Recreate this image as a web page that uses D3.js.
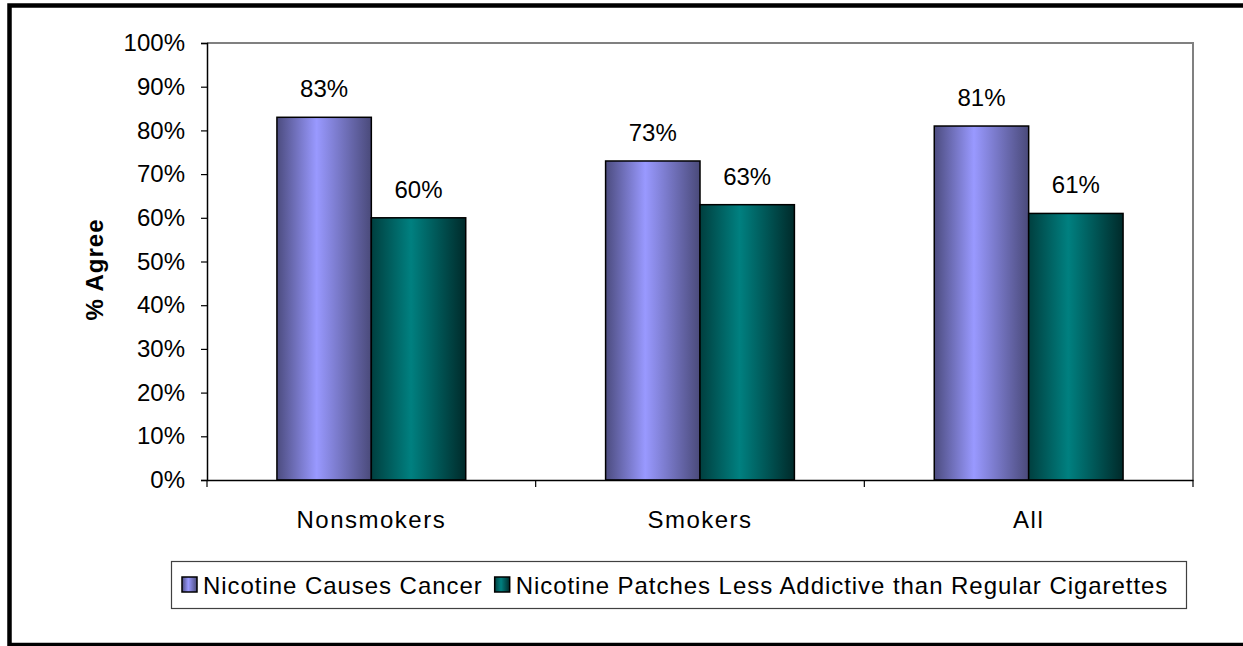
<!DOCTYPE html>
<html><head><meta charset="utf-8">
<script src="https://cdn.jsdelivr.net/npm/d3@7"></script>
<style>body{margin:0;background:#fff;} text{font-family:"Liberation Sans",Arial,sans-serif;}</style>
</head><body>
<svg id="c" width="1243" height="646"></svg>
<script>
const categories = ["Nonsmokers", "Smokers", "All"];
const seriesNames = ["Nicotine Causes Cancer", "Nicotine Patches Less Addictive than Regular Cigarettes"];
const causesCancer = [83, 73, 81];
const patchesLess = [60, 63, 61];
const yTicks = [0,10,20,30,40,50,60,70,80,90,100];

const svg = d3.select("#c");
const FS = 24;
const LS = 0.95;
const plot = {left:207, right:1193, top:43, bottom:480};

// outer frame
svg.append("rect").attr("x",9.5).attr("y",5.5).attr("width",1300).attr("height",639.5)
  .attr("fill","none").attr("stroke","#000").attr("stroke-width",4.5);

const defs = svg.append("defs");
function grad(id, dark, light, dark2){
  const g = defs.append("linearGradient").attr("id",id).attr("x1","0%").attr("x2","100%").attr("y1","0").attr("y2","0");
  g.append("stop").attr("offset","0%").attr("stop-color",dark);
  g.append("stop").attr("offset","42%").attr("stop-color",light);
  g.append("stop").attr("offset","100%").attr("stop-color",dark2);
}
grad("gP","#4c4c7f","#9999ff","#4a4a7a");
grad("gT","#003f3f","#008080","#002a2a");
const fills = ["url(#gP)","url(#gT)"];

const x0 = d3.scaleBand().domain(categories).range([plot.left, plot.right]).paddingInner(0).paddingOuter(0);
const innerPad = 70/329;
const x1 = d3.scaleBand().domain([0,1]).range([x0.bandwidth()*innerPad, x0.bandwidth()*(1-innerPad)]).padding(0);
const y = d3.scaleLinear().domain([0,100]).range([plot.bottom, plot.top]);

// plot area border (top & right gray)
svg.append("path").attr("d",`M${plot.left},${plot.top}H${plot.right}V${plot.bottom}`)
  .attr("fill","none").attr("stroke","#808080").attr("stroke-width",2);

const series = [causesCancer, patchesLess];
categories.forEach((c,i)=>{
  series.forEach((s,j)=>{
    const bx = x0(c)+x1(j);
    svg.append("rect").attr("x",bx).attr("y",y(s[i])).attr("width",x1.bandwidth()).attr("height",y(0)-y(s[i]))
      .attr("fill",fills[j]).attr("stroke","#000").attr("stroke-width",1.5);
    svg.append("text").attr("x",bx+x1.bandwidth()/2).attr("y",y(s[i])-20).attr("text-anchor","middle")
      .attr("font-size",FS).attr("fill","#000").text(s[i]+"%");
  });
});

// y axis
const yAxis = d3.axisLeft(y).tickValues(yTicks).tickFormat(d=>d+"%").tickSize(6).tickPadding(16);
const ga = svg.append("g").attr("transform",`translate(${plot.left},0)`).call(yAxis);
ga.select(".domain").attr("stroke","#000").attr("stroke-width",1.5);
ga.selectAll(".tick line").attr("stroke","#000").attr("stroke-width",1.2);
ga.selectAll(".tick text").attr("font-size",FS).attr("fill","#000").attr("font-family","Liberation Sans, Arial, sans-serif");

// x axis
const xAxis = d3.axisBottom(x0).tickSize(0).tickPadding(31);
const gx = svg.append("g").attr("transform",`translate(0,${plot.bottom})`).call(xAxis);
gx.select(".domain").attr("stroke","#000").attr("stroke-width",1.5);
gx.selectAll(".tick text").attr("font-size",FS).attr("fill","#000").attr("letter-spacing",1.5)
  .attr("font-family","Liberation Sans, Arial, sans-serif");
// category boundary ticks
const bounds = categories.map(c=>x0(c)).concat([plot.right]);
svg.selectAll(".btick").data(bounds).enter().append("line")
  .attr("x1",d=>d).attr("x2",d=>d).attr("y1",plot.bottom).attr("y2",plot.bottom+7)
  .attr("stroke","#000").attr("stroke-width",1.2);

// y title
svg.append("text").attr("transform",`translate(103,${(plot.top+plot.bottom)/2+8}) rotate(-90)`)
  .attr("text-anchor","middle").attr("font-size",FS).attr("font-weight","bold").attr("letter-spacing",1).text("% Agree");

// legend
const lg = svg.append("g");
lg.append("rect").attr("x",171.5).attr("y",561.5).attr("width",1015).attr("height",47)
  .attr("fill","#fff").attr("stroke","#404040").attr("stroke-width",1.2);
let lx = 182;
seriesNames.forEach((n,j)=>{
  lg.append("rect").attr("x",lx).attr("y",577).attr("width",15).attr("height",15)
    .attr("fill",fills[j]).attr("stroke","#000").attr("stroke-width",1.5);
  const t = lg.append("text").attr("x",lx+21).attr("y",594).attr("font-size",FS).attr("letter-spacing",LS).text(n);
  lx += 21 + t.node().getComputedTextLength() + 12;
});
</script>
</body></html>
